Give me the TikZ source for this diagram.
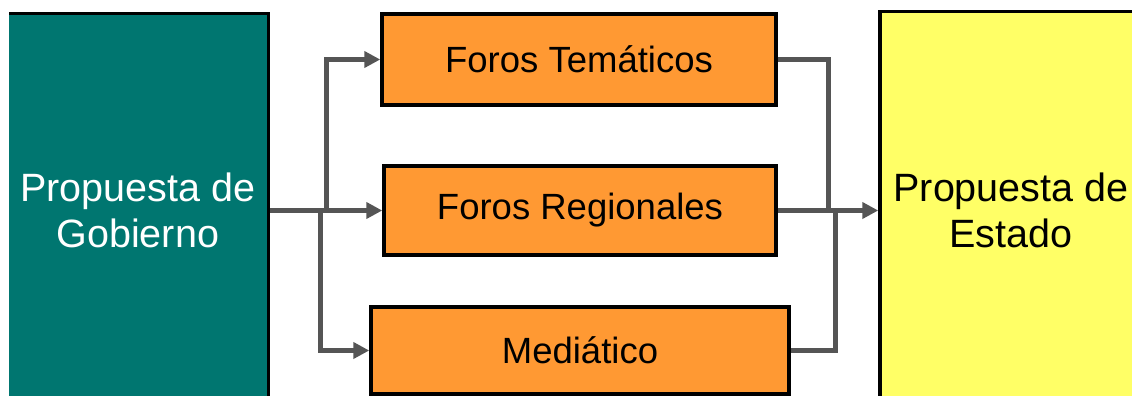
\documentclass[tikz,border=0pt]{standalone}
\usepackage{fontspec}
\setmainfont{Liberation Sans}
\usetikzlibrary{arrows.meta}
\definecolor{tealbox}{RGB}{0,118,112}
\definecolor{orangebox}{RGB}{255,153,51}
\definecolor{yellowbox}{RGB}{255,255,102}
\definecolor{conn}{RGB}{85,85,85}
\tikzset{
  bigbox/.style={draw=black, line width=3.5pt, inner sep=0pt, align=center,
    font=\fontsize{39.5}{46}\selectfont},
  forobox/.style={draw=black, line width=3.5pt, fill=orangebox, inner sep=0pt,
    font=\fontsize{36.5}{44}\selectfont, text=black},
  link/.style={draw=conn, line width=5pt},
  arr/.style={link, -{Triangle[length=16pt,width=16pt]}},
}
\begin{document}
\begin{tikzpicture}[x=1pt,y=-1pt]
\useasboundingbox (0,0) rectangle (1132,396);
\fill[white] (0,0) rectangle (1132,396);
\begin{scope}
\clip (9,0) rectangle (1132,396);
\node[bigbox, fill=tealbox, text=white, minimum width=261.5pt, minimum height=393pt]
  (gob) at (137.75,210) {Propuesta de\\Gobierno};
\node[bigbox, fill=yellowbox, text=black, minimum width=262pt, minimum height=397pt]
  (est) at (1011,210) {Propuesta de\\Estado};
\node[forobox, minimum width=394pt, minimum height=91pt] (ft) at (579,59.5) {Foros Temáticos};
\node[forobox, minimum width=392pt, minimum height=89pt] (fr) at (580,210.5) {Foros Regionales};
\node[forobox, minimum width=418pt, minimum height=87pt] (med) at (580,350.5) {Mediático};
\end{scope}
\coordinate (j1) at (326,210.5);
\coordinate (j2) at (320,210.5);
\coordinate (k1) at (828,210.5);
\coordinate (k2) at (835,210.5);
\draw[arr] (gob.east |- fr.west) -- (fr.west);
\draw[arr] (j1) |- (ft.west);
\draw[arr] (j2) |- (med.west);
\draw[link] (ft.east) -| (k1);
\draw[link] (med.east) -| (k2);
\draw[arr] (fr.east) -- (fr.east -| est.west);
\end{tikzpicture}
\end{document}
